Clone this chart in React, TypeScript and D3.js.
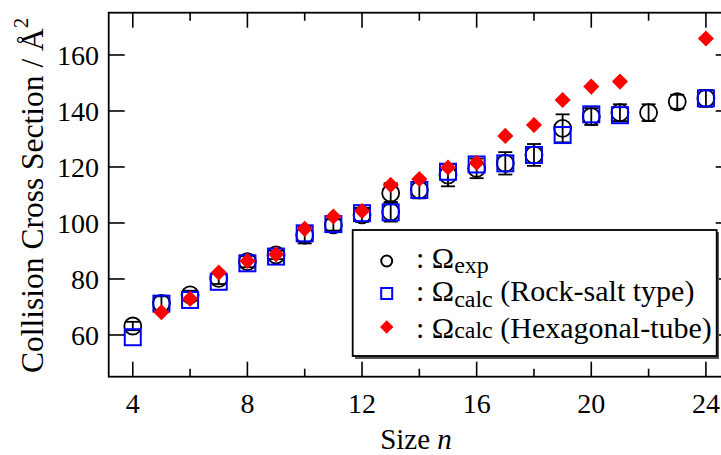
import * as d3 from "d3";

// experimental (circles with error bars) - two isomers at n = 13
const expSize = [4, 5, 6, 7, 8, 9, 10, 11, 12, 13, 13, 14, 15, 16, 17, 18, 19, 20, 21, 22, 23, 24];
const expCcs = [63.2, 71.3, 74.3, 80.2, 86.2, 88.6, 95.7, 99.3, 102.9, 110.7, 104.0, 111.8, 117.1, 119.5, 121.3, 124.3, 133.8, 138.0, 139.4, 139.4, 143.3, 144.5];
const expErr = [1.5, 2.5, 1.5, 2, 2, 1.5, 3, 2, 2.5, 3.5, 3.5, 3, 4, 3.5, 4, 3.9, 5, 3, 3, 3, 2.5, 3];

// calc, rock-salt type (blue squares)
const rockSize = [4, 5, 6, 7, 8, 9, 10, 11, 12, 13, 14, 15, 16, 17, 18, 19, 20, 21, 24];
const rockCcs = [59.2, 71.2, 72.5, 79.0, 85.6, 88.0, 96.3, 99.6, 103.5, 103.8, 111.8, 118.3, 120.9, 121.3, 124.3, 131.4, 138.8, 138.5, 144.5];

// calc, hexagonal tube (red diamonds)
const hexSize = [5, 6, 7, 8, 9, 10, 11, 12, 13, 14, 15, 16, 17, 18, 19, 20, 21, 24];
const hexCcs = [68.1, 72.9, 82.3, 86.4, 88.8, 97.9, 102.3, 104.3, 113.6, 115.7, 119.8, 121.5, 131.1, 135.0, 143.9, 148.7, 150.5, 165.9];

const xMajor = [4, 8, 12, 16, 20, 24];
const xMinor = [6, 10, 14, 18, 22];
const yTicks = [60, 80, 100, 120, 140, 160];

const serif = { fontFamily: "Liberation Serif, DejaVu Serif, serif" };

const App = () => {
  const left = 108.7;
  const right = 731.7;
  const top = 12.7;
  const bottom = 376.7;

  const x = d3.scaleLinear().domain([3.16, 24.9]).range([left, right]);
  const y = d3.scaleLinear().domain([45.1, 175.1]).range([bottom, top]);

  const diamond = d3.symbol(d3.symbolSquare, 130)();
  const legendDiamond = d3.symbol(d3.symbolSquare, 90)();

  return (
    <svg
      width={721}
      height={455}
      style={{ position: "absolute", left: 0, top: 0, background: "#fff", ...serif }}
    >
      {/* ticks */}
      {xMajor.concat(xMinor).map((t) => {
        const len = xMajor.includes(t) ? 15 : 8;
        return (
          <g key={"xt" + t} stroke="#000" strokeWidth={1.6}>
            <line x1={x(t)} x2={x(t)} y1={bottom} y2={bottom - len} />
            <line x1={x(t)} x2={x(t)} y1={top} y2={top + len} />
          </g>
        );
      })}
      {yTicks.map((t) => (
        <g key={"yt" + t} stroke="#000" strokeWidth={1.6}>
          <line x1={left} x2={left + 16} y1={y(t)} y2={y(t)} />
          <line x1={right} x2={right - 16} y1={y(t)} y2={y(t)} />
        </g>
      ))}
      {xMajor.map((t) => (
        <text key={"xl" + t} x={x(t)} y={413} fontSize={28} textAnchor="middle" style={serif}>
          {t}
        </text>
      ))}
      {yTicks.map((t) => (
        <text key={"yl" + t} x={99} y={y(t) + 10} fontSize={28} textAnchor="end" style={serif}>
          {t}
        </text>
      ))}

      {/* axis titles */}
      <text x={416} y={449} fontSize={29} textAnchor="middle" style={serif}>
        Size <tspan fontStyle="italic">n</tspan>
      </text>
      <text transform="translate(43,373) rotate(-90)" fontSize={31.5} style={serif}>
        Collision Cross Section / Å
        <tspan fontSize={21} dy={-15}>2</tspan>
      </text>

      {/* experimental */}
      {expSize.map((n, i) => (
        <g key={"e" + i} stroke="#000" strokeWidth={1.8} fill="none">
          <circle cx={x(n)} cy={y(expCcs[i])} r={8.5} />
          <line x1={x(n)} x2={x(n)} y1={y(expCcs[i] - expErr[i])} y2={y(expCcs[i] + expErr[i])} />
          <line x1={x(n) - 7} x2={x(n) + 7} y1={y(expCcs[i] - expErr[i])} y2={y(expCcs[i] - expErr[i])} />
          <line x1={x(n) - 7} x2={x(n) + 7} y1={y(expCcs[i] + expErr[i])} y2={y(expCcs[i] + expErr[i])} />
        </g>
      ))}
      {rockSize.map((n, i) => (
        <rect
          key={"r" + i}
          x={x(n) - 8}
          y={y(rockCcs[i]) - 8}
          width={16}
          height={16}
          fill="none"
          stroke="#0000ff"
          strokeWidth={2}
        />
      ))}
      {hexSize.map((n, i) => (
        <path
          key={"h" + i}
          d={diamond}
          transform={`translate(${x(n)},${y(hexCcs[i])}) rotate(45)`}
          fill="#ff0000"
        />
      ))}

      {/* legend */}
      <rect x={355} y={232} width={364} height={127} fill="#555" />
      <rect x={352.7} y={230} width={364} height={126} fill="#fff" stroke="#000" strokeWidth={1.8} />
      <circle cx={386.7} cy={261} r={5.5} fill="none" stroke="#000" strokeWidth={2} />
      <rect x={381.2} y={288} width={11} height={11} fill="none" stroke="#0000ff" strokeWidth={2} />
      <path d={legendDiamond} transform="translate(386.7,327) rotate(45)" fill="#ff0000" />
      <g fontSize={30} style={serif}>
        <text x={416} y={268}>
          : Ω<tspan fontSize={24} dy={5}>exp</tspan>
        </text>
        <text x={416} y={300.5}>
          : Ω<tspan fontSize={24} dy={6}>calc</tspan>
          <tspan dy={-6}> (Rock-salt type)</tspan>
        </text>
        <text x={416} y={338}>
          : Ω<tspan fontSize={24}>calc</tspan> (Hexagonal-tube)
        </text>
      </g>

      {/* frame */}
      <rect x={left} y={top} width={right - left} height={bottom - top} fill="none" stroke="#000" strokeWidth={1.8} />
    </svg>
  );
};

export default App;
